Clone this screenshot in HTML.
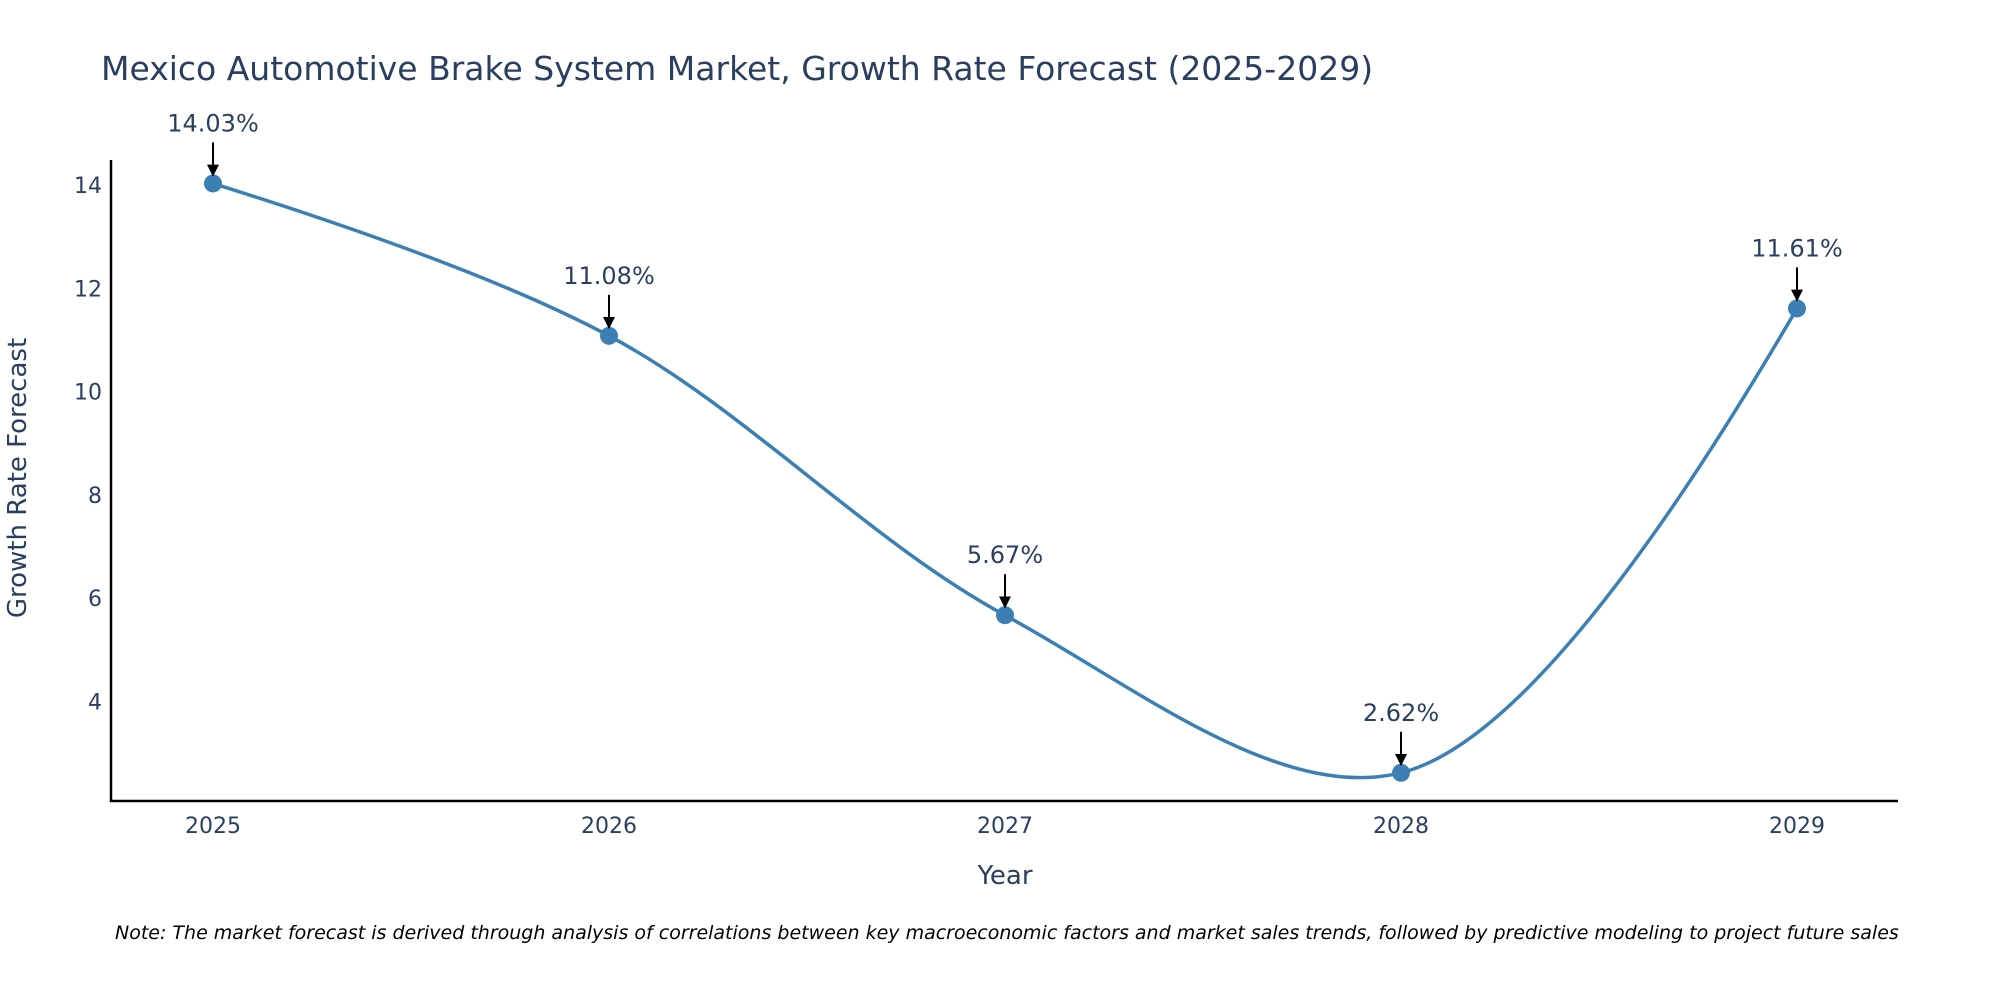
<!DOCTYPE html>
<html><head><meta charset="utf-8"><style>
html,body{margin:0;padding:0;background:#fff;}
svg{display:block;font-family:"DejaVu Sans","Liberation Sans",sans-serif;}
</style></head><body>
<svg id="chart" width="2000" height="1000" xmlns="http://www.w3.org/2000/svg">
<text x="101" y="80" font-size="33" fill="#2a3f5f">Mexico Automotive Brake System Market, Growth Rate Forecast (2025-2029)</text>
<g id="yticks"></g>
<g id="xticks"></g>
<line x1="111" y1="160" x2="111" y2="802" stroke="#000" stroke-width="2.5"/>
<line x1="110" y1="801" x2="1898" y2="801" stroke="#000" stroke-width="2.5"/>
<path id="line" fill="none" stroke="#3b7fb4" stroke-width="3.5"/>
<g id="points"></g>
<g id="annots"></g>
<text x="26" y="478" font-size="26" fill="#2a3f5f" text-anchor="middle" transform="rotate(-90 26 478)">Growth Rate Forecast</text>
<text x="1005" y="884" font-size="26" fill="#2a3f5f" text-anchor="middle">Year</text>
<text x="115" y="939" font-size="19" font-style="italic" fill="#000">Note: The market forecast is derived through analysis of correlations between key macroeconomic factors and market sales trends, followed by predictive modeling to project future sales</text>
<defs><marker id="ah" viewBox="0 0 10 10" refX="9" refY="5" markerWidth="6" markerHeight="6" orient="auto"><path d="M0,0 L10,5 L0,10 z" fill="#000"/></marker></defs>
</svg>
<script>
const years = ["2025","2026","2027","2028","2029"];
const values = [14.03, 11.08, 5.67, 2.62, 11.61];
const valueLabels = ["14.03%","11.08%","5.67%","2.62%","11.61%"];
const yTicks = [4,6,8,10,12,14];

const NS="http://www.w3.org/2000/svg";
const x0=213, xStep=(1797-213)/(years.length-1);
function xs(i){return x0+i*xStep;}
function ys(v){return 701.5-(v-4)*51.65;}
function mk(t,a,p){const e=document.createElementNS(NS,t);for(const k in a)e.setAttribute(k,a[k]);p.appendChild(e);return e;}

const yt=document.getElementById('yticks');
yTicks.forEach(v=>{
  const t=mk('text',{x:102,y:ys(v)+8,'font-size':22,fill:'#2a3f5f','text-anchor':'end'},yt);
  
  
  t.textContent=v;
});
const xt=document.getElementById('xticks');
years.forEach((y,i)=>{
  const t=mk('text',{x:xs(i),y:833,'font-size':22,fill:'#2a3f5f','text-anchor':'middle'},xt);
  
  
  t.textContent=y;
});

const pts=values.map((v,i)=>[xs(i),ys(v)]);
function tangent(p,c,n,s){
  const d1x=p[0]-c[0],d1y=p[1]-c[1],d2x=n[0]-c[0],d2y=n[1]-c[1];
  const d1a=Math.pow(d1x*d1x+d1y*d1y,0.25),d2a=Math.pow(d2x*d2x+d2y*d2y,0.25);
  const nx=(d2a*d2a*d1x-d1a*d1a*d2x)*s,ny=(d2a*d2a*d1y-d1a*d1a*d2y)*s;
  const den1=3*d2a*(d1a+d2a),den2=3*d1a*(d1a+d2a);
  return [[c[0]+nx/den1,c[1]+ny/den1],[c[0]-nx/den2,c[1]-ny/den2]];
}
const tg=[];
for(let i=1;i<pts.length-1;i++)tg.push(tangent(pts[i-1],pts[i],pts[i+1],1));
let d='M'+pts[0]+'Q'+tg[0][0]+' '+pts[1];
for(let i=1;i<pts.length-2;i++)d+='C'+tg[i-1][1]+' '+tg[i][0]+' '+pts[i+1];
d+='Q'+tg[pts.length-3][1]+' '+pts[pts.length-1];
document.getElementById('line').setAttribute('d',d);

const pg=document.getElementById('points'),ag=document.getElementById('annots');
pts.forEach((p,i)=>{
  const c=mk('circle',{cx:p[0],cy:p[1],r:9,fill:'#3b7fb4'},pg);
  
  
  const l=mk('line',{x1:p[0],y1:p[1]-41,x2:p[0],y2:p[1]-8,stroke:'#000','stroke-width':2,'marker-end':'url(#ah)'},ag);
  
  
  const t=mk('text',{x:p[0],y:p[1]-52,'font-size':24,fill:'#2a3f5f','text-anchor':'middle'},ag);
  
  
  t.textContent=valueLabels[i];
});
</script>
</body></html>
